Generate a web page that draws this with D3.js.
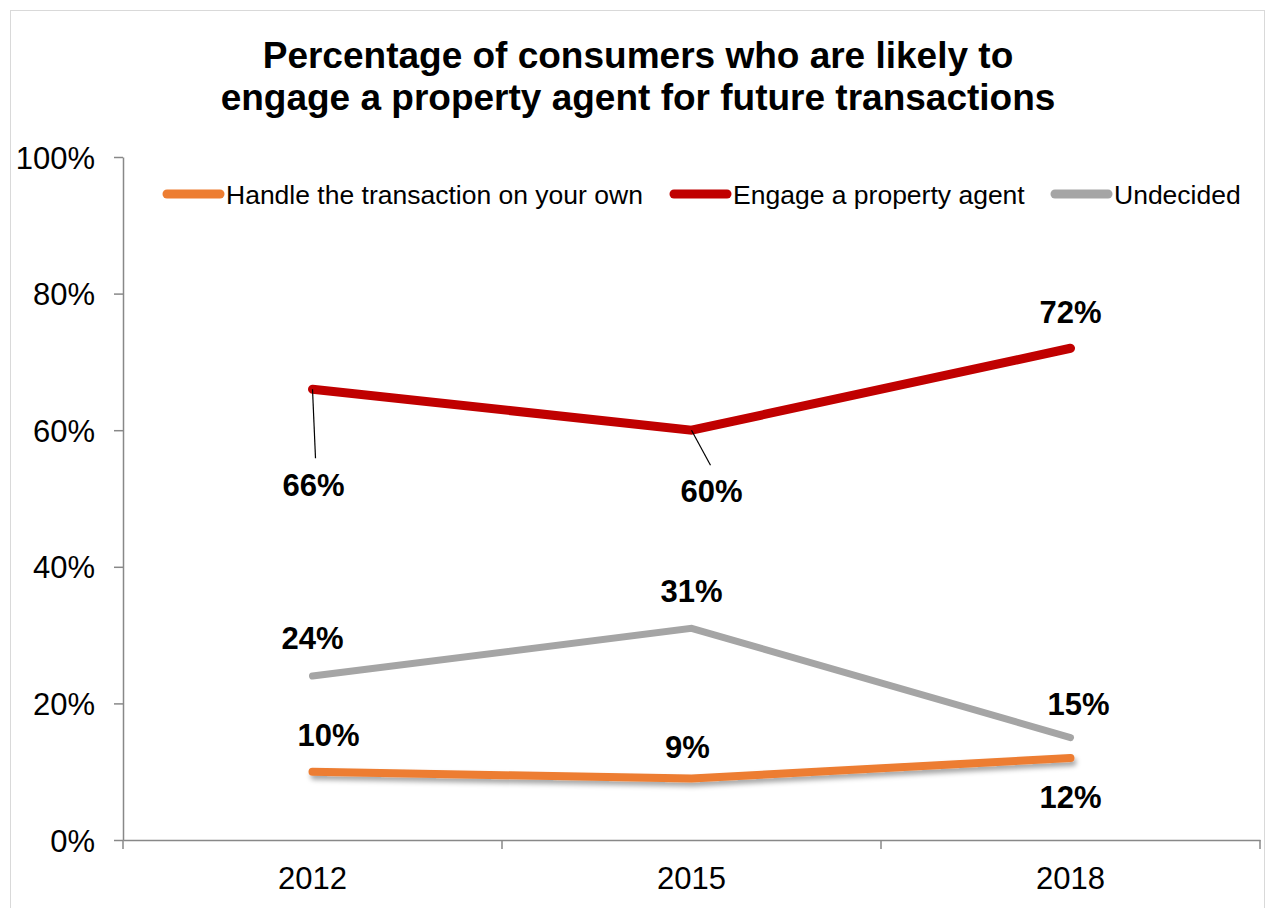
<!DOCTYPE html>
<html>
<head>
<meta charset="utf-8">
<script src="https://cdn.jsdelivr.net/npm/d3@7"></script>
<style>
    body {margin: 0; background: #fff;}
    svg {display: block; font-family: "Liberation Sans", Arial, sans-serif;}
</style>
</head>
<body>
<svg id="chart" width="1266" height="908"></svg>
<script>
const years = ["2012", "2015", "2018"]
const seriesNames = ["Handle the transaction on your own", "Engage a property agent", "Undecided"]
const handleOwn = [10, 9, 12]
const engageAgent = [66, 60, 72]
const undecided = [24, 31, 15]
const yTicks = [0, 20, 40, 60, 80, 100]

// label placement (dx, dy from the point) per series
const labelOffsets = [
    [[16, -37], [-4, -32], [0, 39]],
    [[1, 96], [20, 61], [0, -36]],
    [[0, -38], [0, -37], [8, -34]]
]
// leader line ends (relative to point), null = none
const leaders = [
    [null, null, null],
    [[3, 69], [19, 35], null],
    [null, null, null]
]

const series = [
    {name: seriesNames[0], values: handleOwn, color: "#ed7d31", width: 8, shadow: true},
    {name: seriesNames[1], values: engageAgent, color: "#c00000", width: 9, shadow: false},
    {name: seriesNames[2], values: undecided, color: "#a5a5a5", width: 7, shadow: false}
]

const svg = d3.select("#chart")
const margin = {top: 157, left: 123, right: 1260, bottom: 840}
const fontFamily = "'Liberation Sans', Arial, sans-serif"

// outer frame
svg.append("rect")
    .attr("x", 10.5).attr("y", 10.5)
    .attr("width", 1254).attr("height", 910)
    .attr("fill", "none").attr("stroke", "#d9d9d9")

const defs = svg.append("defs")
const filter = defs.append("filter").attr("id", "shadow")
    .attr("x", "-10%").attr("y", "-100%").attr("width", "120%").attr("height", "400%")
filter.append("feDropShadow")
    .attr("dx", 2).attr("dy", 4).attr("stdDeviation", 2.5)
    .attr("flood-color", "#000").attr("flood-opacity", 0.35)

// title
svg.append("text")
    .attr("text-anchor", "middle")
    .style("font-weight", "bold").style("font-size", "37px")
    .selectAll("tspan")
    .data(["Percentage of consumers who are likely to", "engage a property agent for future transactions"])
    .enter().append("tspan")
    .attr("x", 638)
    .attr("y", (d, i) => 68 + i * 42)
    .text(d => d)

const x = d3.scaleBand().domain(years).range([margin.left, margin.right])
const y = d3.scaleLinear().domain([0, 100]).range([margin.bottom, margin.top])

// y axis
const yAxis = svg.append("g")
    .attr("transform", "translate(" + margin.left + ",0)")
    .call(d3.axisLeft(y).tickValues(yTicks).tickFormat(d => d + "%").tickSize(9).tickSizeOuter(0))
yAxis.select(".domain").attr("stroke", "#888").attr("stroke-width", 1.5)
yAxis.selectAll(".tick line").attr("stroke", "#888").attr("stroke-width", 1.5)
yAxis.selectAll(".tick text")
    .attr("x", -28).attr("dy", "0.36em")
    .style("font-size", "31px").attr("fill", "#000")
    .style("font-family", fontFamily)

// x axis
const xAxis = svg.append("g")
    .attr("transform", "translate(0," + margin.bottom + ")")
    .call(d3.axisBottom(x).tickSize(0).tickSizeOuter(0))
xAxis.select(".domain").attr("stroke", "#888").attr("stroke-width", 1.5)
xAxis.selectAll(".tick text")
    .attr("y", 27).attr("dy", "0.71em")
    .style("font-size", "31px").attr("fill", "#000")
    .style("font-family", fontFamily)
xAxis.selectAll(".sep")
    .data(years.map(d => x(d)).concat([margin.right]))
    .enter().append("line")
    .attr("class", "sep")
    .attr("x1", d => d).attr("x2", d => d)
    .attr("y1", 0).attr("y2", 9)
    .attr("stroke", "#888").attr("stroke-width", 1.5)

const cx = d => x(d) + x.bandwidth() / 2
const line = d3.line().x((d, i) => cx(years[i])).y(d => y(d))

// lines
series.forEach(s => {
    svg.append("path")
        .datum(s.values)
        .attr("d", line)
        .attr("fill", "none")
        .attr("stroke", s.color)
        .attr("stroke-width", s.width)
        .attr("stroke-linecap", "round")
        .attr("stroke-linejoin", "miter")
        .attr("filter", s.shadow ? "url(#shadow)" : null)
})

// leader lines
series.forEach((s, si) => {
    s.values.forEach((v, i) => {
        const end = leaders[si][i]
        if (end === null) return
        const lx = cx(years[i]), ly = y(v)
        svg.append("line")
            .attr("x1", lx).attr("y1", ly)
            .attr("x2", lx + end[0]).attr("y2", ly + end[1])
            .attr("stroke", "#000").attr("stroke-width", 1.2)
    })
})

// data labels
series.forEach((s, si) => {
    svg.append("g").selectAll("text")
        .data(s.values)
        .enter().append("text")
        .attr("x", (d, i) => cx(years[i]) + labelOffsets[si][i][0])
        .attr("y", (d, i) => y(d) + labelOffsets[si][i][1])
        .attr("dy", "0.36em")
        .attr("text-anchor", "middle")
        .style("font-weight", "bold").style("font-size", "31px")
        .text(d => d + "%")
})

// legend
const legendItems = [
    {x: 163, s: series[0]},
    {x: 670, s: series[1]},
    {x: 1051, s: series[2]}
]
const legend = svg.append("g").attr("transform", "translate(0,194)")
legendItems.forEach(item => {
    legend.append("line")
        .attr("x1", item.x + 4).attr("x2", item.x + 57)
        .attr("y1", 0).attr("y2", 0)
        .attr("stroke", item.s.color)
        .attr("stroke-width", 9)
        .attr("stroke-linecap", "round")
    legend.append("text")
        .attr("x", item.x + 63).attr("y", 0)
        .attr("dy", "0.36em")
        .style("font-size", "26.5px")
        .text(item.s.name)
})
</script>
</body>
</html>
